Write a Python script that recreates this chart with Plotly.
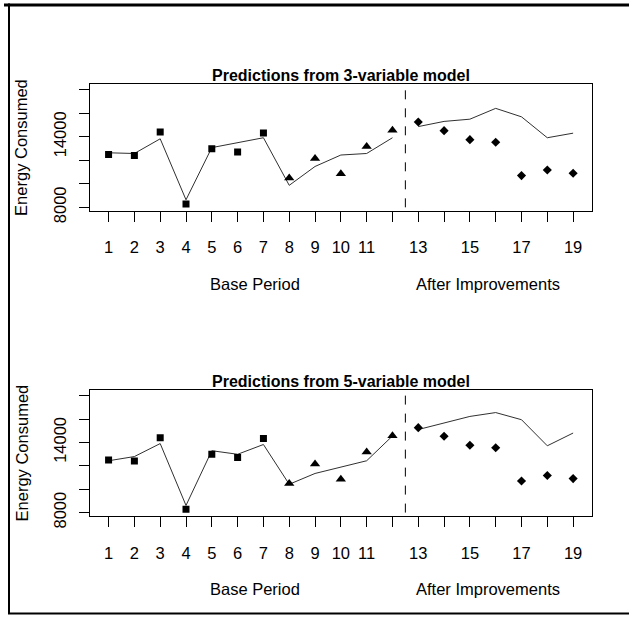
import plotly.graph_objects as go

periods = list(range(1, 20))
base_idx = list(range(0, 12))
after_idx = list(range(12, 19))
actual = [12490, 12400, 14400, 8280, 12990, 12715, 14325, 10490, 12145, 10850,
          13175, 14565, 15260, 14525, 13760, 13540, 10700, 11170, 10905]
pred3 = [12640, 12580, 13830, 8640, 13080, 13500, 13920, 9870, 11475, 12450,
         12580, 13920, 14870, 15310, 15500, 16420, 15700, 13920, 14310]
pred5 = [12430, 12790, 13900, 8610, 13290, 12985, 13820, 10420, 11345, 11900,
         12430, 14550, 15100, 15660, 16220, 16550, 15940, 13710, 14800]
titles = ["Predictions from 3-variable model", "Predictions from 5-variable model"]
xtick_vals = periods
xtick_text = [str(p) if (p <= 11 or p in (13, 15, 17, 19)) else "" for p in periods]
ytick_vals = [8000, 10000, 12000, 14000, 16000, 18000]
ytick_text = ["8000", "", "", "14000", "", ""]

W, H = 629, 628
FONT = "Liberation Sans, Arial, sans-serif"

def px(x):
    return x / W

def py(y):
    return 1 - y / H

fig = go.Figure()

panels = [(86, 215), (398.3, 526.7)]
preds = [pred3, pred5]

annotations = []
shapes = []
for k, (top, bot) in enumerate(panels):
    xa = "x" if k == 0 else "x2"
    ya = "y" if k == 0 else "y2"
    pred = preds[k]
    fig.add_trace(go.Scatter(x=[periods[i] for i in base_idx], y=[pred[i] for i in base_idx],
                             mode="lines", line=dict(color="#303030", width=1),
                             xaxis=xa, yaxis=ya, showlegend=False))
    fig.add_trace(go.Scatter(x=[periods[i] for i in after_idx], y=[pred[i] for i in after_idx],
                             mode="lines", line=dict(color="#303030", width=1),
                             xaxis=xa, yaxis=ya, showlegend=False))
    fig.add_trace(go.Scatter(x=periods[0:7], y=actual[0:7], mode="markers",
                             marker=dict(symbol="square", size=7, color="black"),
                             xaxis=xa, yaxis=ya, showlegend=False))
    fig.add_trace(go.Scatter(x=periods[7:12], y=actual[7:12], mode="markers",
                             marker=dict(symbol="triangle-up", size=9, color="black"),
                             xaxis=xa, yaxis=ya, showlegend=False))
    fig.add_trace(go.Scatter(x=periods[12:19], y=actual[12:19], mode="markers",
                             marker=dict(symbol="diamond", size=7, color="black"),
                             xaxis=xa, yaxis=ya, showlegend=False))
    shapes.append(dict(type="line", xref=xa, yref=ya, x0=12.5, x1=12.5, y0=8000, y1=18000,
                       line=dict(color="black", width=1, dash="dash")))
    annotations.append(dict(text="<b>" + titles[k] + "</b>", xref="paper", yref="paper",
                            x=px(341), y=py(top - 9), showarrow=False,
                            font=dict(family=FONT, size=16, color="black"),
                            xanchor="center", yanchor="middle"))
    annotations.append(dict(text="Base Period", xref=xa, yref="paper", x=6.68,
                            y=py(bot + 75), showarrow=False,
                            font=dict(family=FONT, size=16.5, color="black"),
                            xanchor="center", yanchor="middle"))
    annotations.append(dict(text="After Improvements", xref=xa, yref="paper", x=15.7,
                            y=py(bot + 75), showarrow=False,
                            font=dict(family=FONT, size=16.5, color="black"),
                            xanchor="center", yanchor="middle"))
    annotations.append(dict(text="Energy Consumed", xref="paper", yref="paper",
                            x=px(21.5), y=py((top + bot) / 2), showarrow=False,
                            textangle=-90,
                            font=dict(family=FONT, size=16.5, color="black"),
                            xanchor="center", yanchor="middle"))

shapes.append(dict(type="line", xref="paper", yref="paper", x0=px(4), x1=px(629),
                   y0=py(5), y1=py(5), line=dict(color="black", width=3)))
shapes.append(dict(type="line", xref="paper", yref="paper", x0=px(9), x1=px(9),
                   y0=py(3.5), y1=py(627), line=dict(color="black", width=2)))
shapes.append(dict(type="line", xref="paper", yref="paper", x0=px(8), x1=px(629),
                   y0=py(626.5), y1=py(626.5), line=dict(color="black", width=2)))

xaxis_common = dict(range=[0.28, 19.72], tickvals=xtick_vals, ticktext=xtick_text,
                    ticks="outside", ticklen=10, tickcolor="black", tickwidth=1,
                    showline=True, linecolor="black", linewidth=1, mirror=True,
                    showgrid=False, zeroline=False, ticklabelstandoff=12,
                    tickfont=dict(family=FONT, size=16.5, color="black"),
                    domain=[px(90), px(591.7)])
yaxis_common = dict(range=[7725, 18475], tickvals=ytick_vals, ticktext=ytick_text,
                    ticks="outside", ticklen=10, tickcolor="black", tickwidth=1,
                    showline=True, linecolor="black", linewidth=1, mirror=True,
                    showgrid=False, zeroline=False, tickangle=-90, ticklabelstandoff=6,
                    tickfont=dict(family=FONT, size=16.5, color="black"))

fig.update_layout(
    width=W, height=H, margin=dict(l=0, r=0, t=0, b=0),
    paper_bgcolor="white", plot_bgcolor="white",
    xaxis=dict(**xaxis_common, anchor="y"),
    yaxis=dict(**yaxis_common, anchor="x", domain=[py(215), py(86)]),
    xaxis2=dict(**xaxis_common, anchor="y2"),
    yaxis2=dict(**yaxis_common, anchor="x2", domain=[py(526.7), py(398.3)]),
    annotations=annotations, shapes=shapes,
)

fig.write_html("out.html")
